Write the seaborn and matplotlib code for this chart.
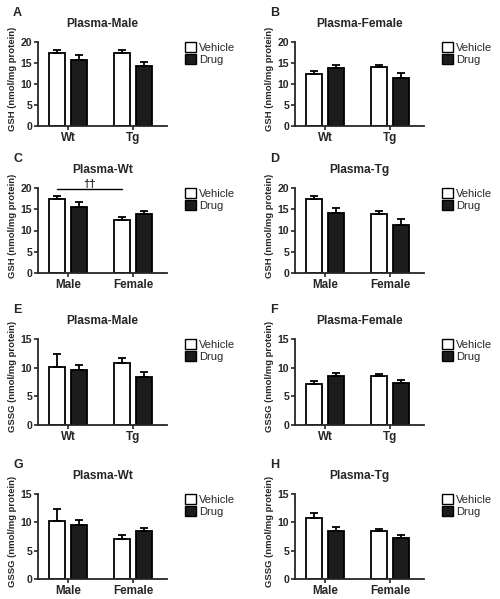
import matplotlib
matplotlib.use("Agg")
import matplotlib.pyplot as plt
import seaborn as sns
import pandas as pd
import numpy as np

# ---------------- data ----------------
treatments = ["Vehicle", "Drug"]
genotypes = ["Wt", "Tg"]
sexes = ["Male", "Female"]

# GSH (nmol/mg protein): mean, SEM   order: [Vehicle, Drug]
gsh_male_wt = [17.3, 15.6]
gsh_male_wt_err = [0.9, 1.2]
gsh_male_tg = [17.5, 14.2]
gsh_male_tg_err = [0.7, 1.0]
gsh_female_wt = [12.4, 13.8]
gsh_female_wt_err = [0.7, 0.8]
gsh_female_tg = [14.0, 11.4]
gsh_female_tg_err = [0.6, 1.2]

# GSSG (nmol/mg protein)
gssg_male_wt = [10.2, 9.6]
gssg_male_wt_err = [2.1, 0.8]
gssg_male_tg = [10.8, 8.4]
gssg_male_tg_err = [0.8, 0.8]
gssg_female_wt = [7.1, 8.5]
gssg_female_wt_err = [0.6, 0.5]
gssg_female_tg = [8.5, 7.3]
gssg_female_tg_err = [0.4, 0.5]

gsh_ticks = [0, 5, 10, 15, 20]
gssg_ticks = [0, 5, 10, 15]

sns.set_theme(style="ticks")
plt.rcParams["font.family"] = ["Liberation Sans", "DejaVu Sans"]

W, H = 500, 599
fig = plt.figure(figsize=(W / 100, H / 100), dpi=100)


def frame(cats, groups, errs):
    rows = []
    for c, vals, es in zip(cats, groups, errs):
        for t, v, e in zip(treatments, vals, es):
            rows.append({"cat": c, "trt": t, "val": v, "err": e})
    return pd.DataFrame(rows)


panels = [
    ("A", "Plasma-Male", genotypes, [gsh_male_wt, gsh_male_tg], [gsh_male_wt_err, gsh_male_tg_err],
     "GSH (nmol/mg protein)", gsh_ticks, (38, 42, 126), False),
    ("B", "Plasma-Female", genotypes, [gsh_female_wt, gsh_female_tg], [gsh_female_wt_err, gsh_female_tg_err],
     "GSH (nmol/mg protein)", gsh_ticks, (295, 42, 126), False),
    ("C", "Plasma-Wt", sexes, [gsh_male_wt, gsh_female_wt], [gsh_male_wt_err, gsh_female_wt_err],
     "GSH (nmol/mg protein)", gsh_ticks, (38, 188, 273), True),
    ("D", "Plasma-Tg", sexes, [gsh_male_tg, gsh_female_tg], [gsh_male_tg_err, gsh_female_tg_err],
     "GSH (nmol/mg protein)", gsh_ticks, (295, 188, 273), False),
    ("E", "Plasma-Male", genotypes, [gssg_male_wt, gssg_male_tg], [gssg_male_wt_err, gssg_male_tg_err],
     "GSSG (nmol/mg protein)", gssg_ticks, (38, 339, 425), False),
    ("F", "Plasma-Female", genotypes, [gssg_female_wt, gssg_female_tg], [gssg_female_wt_err, gssg_female_tg_err],
     "GSSG (nmol/mg protein)", gssg_ticks, (295, 339, 425), False),
    ("G", "Plasma-Wt", sexes, [gssg_male_wt, gssg_female_wt], [gssg_male_wt_err, gssg_female_wt_err],
     "GSSG (nmol/mg protein)", gssg_ticks, (38, 494, 579), False),
    ("H", "Plasma-Tg", sexes, [gssg_male_tg, gssg_female_tg], [gssg_male_tg_err, gssg_female_tg_err],
     "GSSG (nmol/mg protein)", gssg_ticks, (295, 494, 579), False),
]

AX_W = 129
palette = {"Vehicle": "white", "Drug": "#1c1c1c"}

for letter, title, cats, groups, errs, ylabel, ticks, (lx, ty, by), sig in panels:
    ax = fig.add_axes([lx / W, 1 - by / H, AX_W / W, (by - ty) / H])
    df = frame(cats, groups, errs)
    sns.barplot(data=df, x="cat", y="val", hue="trt", order=cats, hue_order=treatments,
                palette=palette, edgecolor="black", linewidth=1.3, width=0.68, gap=0.26,
                errorbar=None, ax=ax, legend=True, saturation=1)
    # error bars (upper only)
    for cont, t in zip(ax.containers, treatments):
        for bar in cont:
            xc = bar.get_x() + bar.get_width() / 2
            c = cats[int(round(xc))]
            row = df[(df.cat == c) & (df.trt == t)].iloc[0]
            ax.errorbar(xc, row.val, yerr=[[0], [row.err]], fmt="none", ecolor="black",
                        elinewidth=1.3, capsize=3.0, capthick=1.3, zorder=1)
    ax.set_ylim(0, ticks[-1])
    ax.set_yticks(ticks)
    ax.set_xlim(-0.46, 1.52)
    sns.despine(ax=ax)
    for s in ["left", "bottom"]:
        ax.spines[s].set_linewidth(1.3)
    ax.tick_params(axis="y", length=3, width=1.2, pad=1.2, labelsize=7.6)
    ax.tick_params(axis="x", length=3, width=1.2, pad=1.5, labelsize=8.4)
    for lab in ax.get_yticklabels() + ax.get_xticklabels():
        lab.set_fontweight("bold")
    ax.set_xlabel("")
    ax.set_ylabel(ylabel, fontsize=6.8, fontweight="bold")
    ax.yaxis.set_label_coords(-0.165, 0.56)
    ax.set_title(title, fontsize=8.6, fontweight="bold", pad=10.5)
    handles, labels = ax.get_legend_handles_labels()
    for h in handles:
        h.set_edgecolor("black")
        h.set_linewidth(1.0)
    ax.legend(handles, labels, loc="upper left", bbox_to_anchor=(1.14, 1.0),
              frameon=False, fontsize=8, handlelength=1.0, handleheight=0.95,
              handletextpad=0.25, labelspacing=0.15, borderpad=0, borderaxespad=0)
    if sig:
        xs = []
        for bar in ax.containers[0]:
            xs.append(bar.get_x() + bar.get_width() / 2)
        ax.plot([min(xs), max(xs)], [19.7, 19.7], color="black", lw=1.0, clip_on=False)
        ax.text(np.mean([min(xs), max(xs)]), 19.8, "††", ha="center", va="bottom",
                fontsize=8, fontweight="bold", clip_on=False)
    fig.text((lx - 25) / W, 1 - (ty - 29) / H, letter, fontsize=9, fontweight="bold",
             ha="left", va="center")

fig.savefig("out.png", dpi=100)
